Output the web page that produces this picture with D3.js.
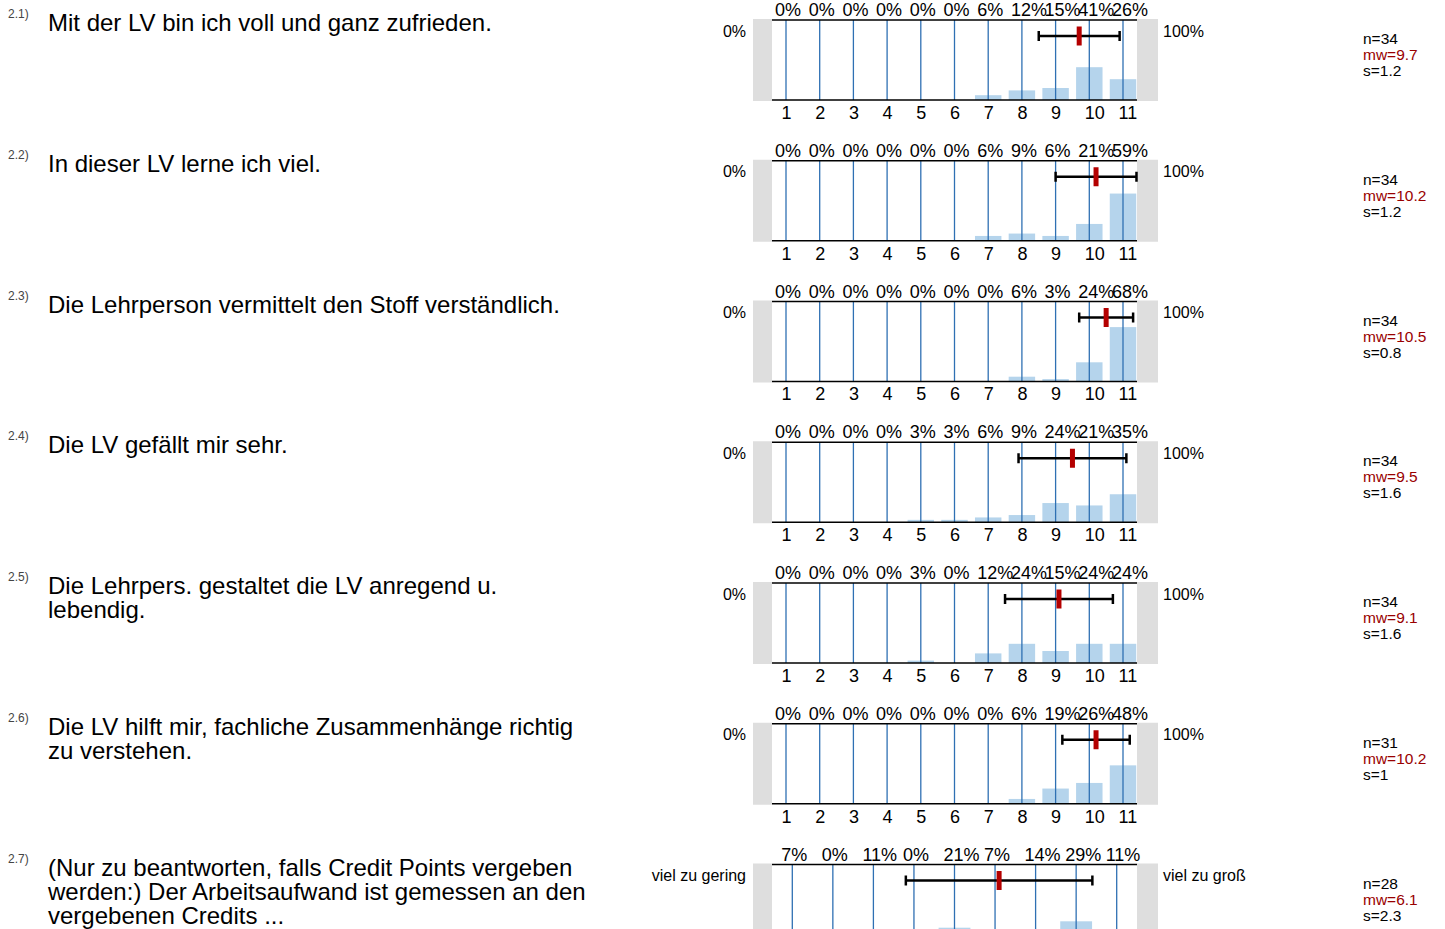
<!DOCTYPE html>
<html>
<head>
<meta charset="utf-8">
<script src="https://cdn.jsdelivr.net/npm/d3@7"></script>
<style>
body { margin: 0; background: #fff; }
svg text { font-family: "Liberation Sans", Arial, sans-serif; }
</style>
</head>
<body>
<div id="chart"></div>
<script>

/* data */
const questionIds = ["2.1)", "2.2)", "2.3)", "2.4)", "2.5)", "2.6)", "2.7)"];

const questionTexts = [
	["Mit der LV bin ich voll und ganz zufrieden."],
	["In dieser LV lerne ich viel."],
	["Die Lehrperson vermittelt den Stoff verständlich."],
	["Die LV gefällt mir sehr."],
	["Die Lehrpers. gestaltet die LV anregend u.", "lebendig."],
	["Die LV hilft mir, fachliche Zusammenhänge richtig", "zu verstehen."],
	["(Nur zu beantworten, falls Credit Points vergeben", "werden:) Der Arbeitsaufwand ist gemessen an den", "vergebenen Credits ..."]
];

const percents21 = [0, 0, 0, 0, 0, 0, 6, 12, 15, 41, 26];
const percents22 = [0, 0, 0, 0, 0, 0, 6, 9, 6, 21, 59];
const percents23 = [0, 0, 0, 0, 0, 0, 0, 6, 3, 24, 68];
const percents24 = [0, 0, 0, 0, 3, 3, 6, 9, 24, 21, 35];
const percents25 = [0, 0, 0, 0, 3, 0, 12, 24, 15, 24, 24];
const percents26 = [0, 0, 0, 0, 0, 0, 0, 6, 19, 26, 48];
const percents27 = [7, 0, 11, 0, 21, 7, 14, 29, 11];

const nValues = [34, 34, 34, 34, 34, 31, 28];
const meanValues = [9.7, 10.2, 10.5, 9.5, 9.1, 10.2, 6.1];
const sdValues = [1.2, 1.2, 0.8, 1.6, 1.6, 1, 2.3];

const leftLabels = ["0%", "0%", "0%", "0%", "0%", "0%", "viel zu gering"];
const rightLabels = ["100%", "100%", "100%", "100%", "100%", "100%", "viel zu groß"];

const tickLabels11 = [1, 2, 3, 4, 5, 6, 7, 8, 9, 10, 11];


const svg = d3.select("#chart").append("svg").attr("width", 1445).attr("height", 929);


class itemPanel
{
	constructor(opts)
	{
		this.top = opts.top;
		this.values = opts.values;
		this.ticks = opts.ticks;
		this.id = opts.id;
		this.lines = opts.lines;
		this.n = opts.n;
		this.mean = opts.mean;
		this.sd = opts.sd;
		this.leftLabel = opts.leftLabel;
		this.rightLabel = opts.rightLabel;

		this.plotLeft = 772;
		this.plotRight = 1137;
		this.plotHeight = 80;

		this.draw();
	}

	draw () {
		this.g = svg.append("g");
		this.createScales();
		this.addFrame();
		this.addBars();
		this.addErrorBar();
		this.addTexts();
	}

	createScales() {
		const k = this.values.length;
		const inset = k == 11 ? 14 : 20.3;

		this.xScale = d3.scaleLinear()
			.domain([1, k])
			.range([this.plotLeft + inset, this.plotRight - inset]);

		this.yScale = d3.scaleLinear()
			.domain([0, 100])
			.range([this.top + this.plotHeight, this.top]);

		this.step = this.xScale(2) - this.xScale(1);
	}

	addFrame() {
		/* grey end boxes */
		this.g.append("rect")
			.attr("x", this.plotLeft - 19).attr("y", this.top - 1)
			.attr("width", 19).attr("height", this.plotHeight + 2)
			.attr("fill", "#dedede");
		this.g.append("rect")
			.attr("x", this.plotRight).attr("y", this.top - 1)
			.attr("width", 21).attr("height", this.plotHeight + 2)
			.attr("fill", "#dedede");
	}

	addBars() {
		const bw = this.step * 0.785;
		const cats = this.values.map((v, i) => ({v: v, c: i + 1}));

		this.g.selectAll("rect.bar").data(cats).enter()
			.append("rect")
			.attr("class", "bar")
			.attr("x", d => this.xScale(d.c) - bw / 2)
			.attr("y", d => this.yScale(d.v))
			.attr("width", bw)
			.attr("height", d => this.yScale(0) - this.yScale(d.v))
			.attr("fill", "#b5d4ec");

		this.g.selectAll("line.grid").data(cats).enter()
			.append("line")
			.attr("class", "grid")
			.attr("x1", d => this.xScale(d.c)).attr("x2", d => this.xScale(d.c))
			.attr("y1", this.yScale(100)).attr("y2", this.yScale(0))
			.attr("stroke", "#2f70b3")
			.attr("stroke-width", 1.3);

		/* top and bottom rules */
		[100, 0].forEach(v => {
			this.g.append("line")
				.attr("x1", this.plotLeft).attr("x2", this.plotRight)
				.attr("y1", this.yScale(v)).attr("y2", this.yScale(v))
				.attr("stroke", "#000")
				.attr("stroke-width", 1.6);
		});

		/* percent labels */
		this.g.selectAll("text.pct").data(cats).enter()
			.append("text")
			.attr("class", "pct")
			.attr("x", d => this.xScale(d.c) - 11)
			.attr("y", this.top - 4)
			.attr("font-size", 18)
			.attr("fill", "#000")
			.text(d => d.v + "%");

		if (this.ticks) {
			const axis = d3.axisBottom(this.xScale)
				.tickValues(this.ticks)
				.tickSize(0)
				.tickPadding(6)
				.tickFormat(d3.format("d"));
			const ax = this.g.append("g")
				.attr("transform", "translate(0," + this.yScale(0) + ")")
				.call(axis);
			ax.select(".domain").remove();
			ax.selectAll("text")
				.attr("x", -5)
				.attr("text-anchor", "start")
				.attr("font-size", 18)
				.attr("fill", "#000")
				.style("font-family", "'Liberation Sans', Arial, sans-serif");
		}
	}

	addErrorBar() {
		const yc = this.top + 16;
		const x0 = this.xScale(this.mean - this.sd);
		const x1 = this.xScale(this.mean + this.sd);

		this.g.append("line")
			.attr("x1", x0).attr("x2", x1).attr("y1", yc).attr("y2", yc)
			.attr("stroke", "#000").attr("stroke-width", 2.5);
		[x0, x1].forEach(x => {
			this.g.append("line")
				.attr("x1", x).attr("x2", x).attr("y1", yc - 5).attr("y2", yc + 5)
				.attr("stroke", "#000").attr("stroke-width", 2.5);
		});
		this.g.append("rect")
			.attr("x", this.xScale(this.mean) - 2.5)
			.attr("y", yc - 9.5)
			.attr("width", 5).attr("height", 19)
			.attr("fill", "#b40000");
	}

	addTexts() {
		this.g.append("text")
			.attr("x", 8).attr("y", this.top - 2)
			.attr("font-size", 12).attr("fill", "#444")
			.text(this.id);

		/* question, one text element with a tspan per line */
		const q = this.g.append("text")
			.attr("x", 48)
			.attr("y", this.top + 11)
			.attr("font-size", 24).attr("fill", "#000");
		q.selectAll("tspan").data(this.lines).enter()
			.append("tspan")
			.attr("x", 48)
			.attr("dy", (d, i) => i == 0 ? 0 : 24)
			.text(d => d);

		this.g.append("text")
			.attr("x", this.plotLeft - 26).attr("y", this.top + 16.5)
			.attr("text-anchor", "end")
			.attr("font-size", 16).attr("fill", "#000")
			.text(this.leftLabel);
		this.g.append("text")
			.attr("x", this.plotRight + 26).attr("y", this.top + 16.5)
			.attr("font-size", 16).attr("fill", "#000")
			.text(this.rightLabel);

		const stats = [
			{t: "n=" + this.n, c: "#000"},
			{t: "mw=" + this.mean, c: "#990000"},
			{t: "s=" + this.sd, c: "#000"}
		];
		this.g.selectAll("text.stat").data(stats).enter()
			.append("text")
			.attr("class", "stat")
			.attr("x", 1363)
			.attr("y", (d, i) => this.top + 24 + i * 16)
			.attr("font-size", 15.5)
			.attr("fill", d => d.c)
			.text(d => d.t);
	}
}


const allPercents = [percents21, percents22, percents23, percents24, percents25, percents26, percents27];

allPercents.forEach(function(values, i) {
	new itemPanel({
		top: 20 + i * 140.75,
		values: values,
		ticks: values.length == 11 ? tickLabels11 : null,
		id: questionIds[i],
		lines: questionTexts[i],
		n: nValues[i],
		mean: meanValues[i],
		sd: sdValues[i],
		leftLabel: leftLabels[i],
		rightLabel: rightLabels[i]
	});
});

</script>
</body>
</html>
